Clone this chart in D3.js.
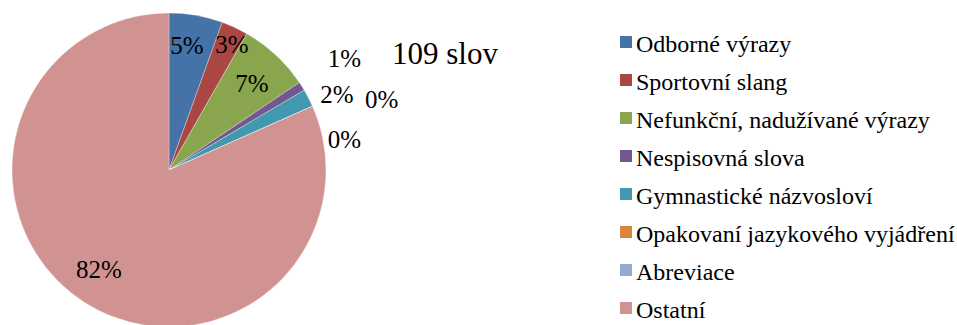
<!DOCTYPE html>
<html>
<head>
<meta charset="utf-8">
<script src="https://cdn.jsdelivr.net/npm/d3@7"></script>
<style>
  html, body { margin: 0; padding: 0; background: #fff; }
  svg { display: block; }
</style>
</head>
<body>
<svg id="chart" width="957" height="325"></svg>
<script>
// Word categories and counts (109 words in total)
const categories = [
  "Odborné výrazy",
  "Sportovní slang",
  "Nefunkční, nadužívané výrazy",
  "Nespisovná slova",
  "Gymnastické názvosloví",
  "Opakovaní jazykového vyjádření",
  "Abreviace",
  "Ostatní"
];
const counts = [6, 3, 8, 1, 2, 0, 0, 89];
const percentLabels = ["5%", "3%", "7%", "1%", "2%", "0%", "0%", "82%"];
const colors = ["#4572A7", "#AA4643", "#89A54E", "#71588F", "#4198AF", "#DB843D", "#93A9CF", "#D19392"];
const totalLabel = "109 slov";

// Label placement around the pie: distance from centre and angular nudge (degrees)
const labelRadius = [126, 140, 120, 208, 184, 224, 178, 122];
const labelNudge = [-1.7, 1.9, 0.7, -0.3, 3.1, 5.7, 14.2, 2];

const FONT = "'Liberation Serif', 'Times New Roman', Times, serif";

const svg = d3.select("#chart");
const cx = 169, cy = 170, R = 157;

const pie = d3.pie().sort(null).value(d => d);
const arcs = pie(counts);
const arc = d3.arc().innerRadius(0).outerRadius(R);

const g = svg.append("g").attr("transform", `translate(${cx},${cy})`);

g.selectAll("path.slice")
  .data(arcs)
  .join("path")
  .attr("class", "slice")
  .attr("d", arc)
  .attr("fill", (d, i) => colors[i])
  .attr("stroke", "#ffffff")
  .attr("stroke-opacity", 0.5)
  .attr("stroke-width", 0.6);

g.selectAll("text.pct")
  .data(arcs)
  .join("text")
  .attr("class", "pct")
  .attr("text-anchor", "middle")
  .attr("dy", "0.34em")
  .attr("font-family", FONT)
  .attr("font-size", 25)
  .attr("fill", "#000")
  .attr("transform", (d, i) => {
    const a = (d.startAngle + d.endAngle) / 2 + labelNudge[i] * Math.PI / 180;
    const r = labelRadius[i];
    return `translate(${r * Math.sin(a)},${-r * Math.cos(a)})`;
  })
  .text((d, i) => percentLabels[i]);

svg.append("text")
  .attr("x", 445)
  .attr("y", 64)
  .attr("text-anchor", "middle")
  .attr("font-family", FONT)
  .attr("font-size", 31)
  .attr("fill", "#000")
  .text(totalLabel);

// Legend
const legend = svg.append("g").attr("transform", "translate(620,0)");
const rowY = d3.scalePoint().domain(categories).range([42, 308]);

const rows = legend.selectAll("g.row")
  .data(categories)
  .join("g")
  .attr("class", "row")
  .attr("transform", d => `translate(0,${rowY(d)})`);

rows.append("rect")
  .attr("x", 0).attr("y", -6)
  .attr("width", 12).attr("height", 12)
  .attr("fill", (d, i) => colors[i]);

rows.append("text")
  .attr("x", 16)
  .attr("y", 10)
  .attr("font-family", FONT)
  .attr("font-size", 24)
  .attr("fill", "#000")
  .text(d => d);
</script>
</body>
</html>
